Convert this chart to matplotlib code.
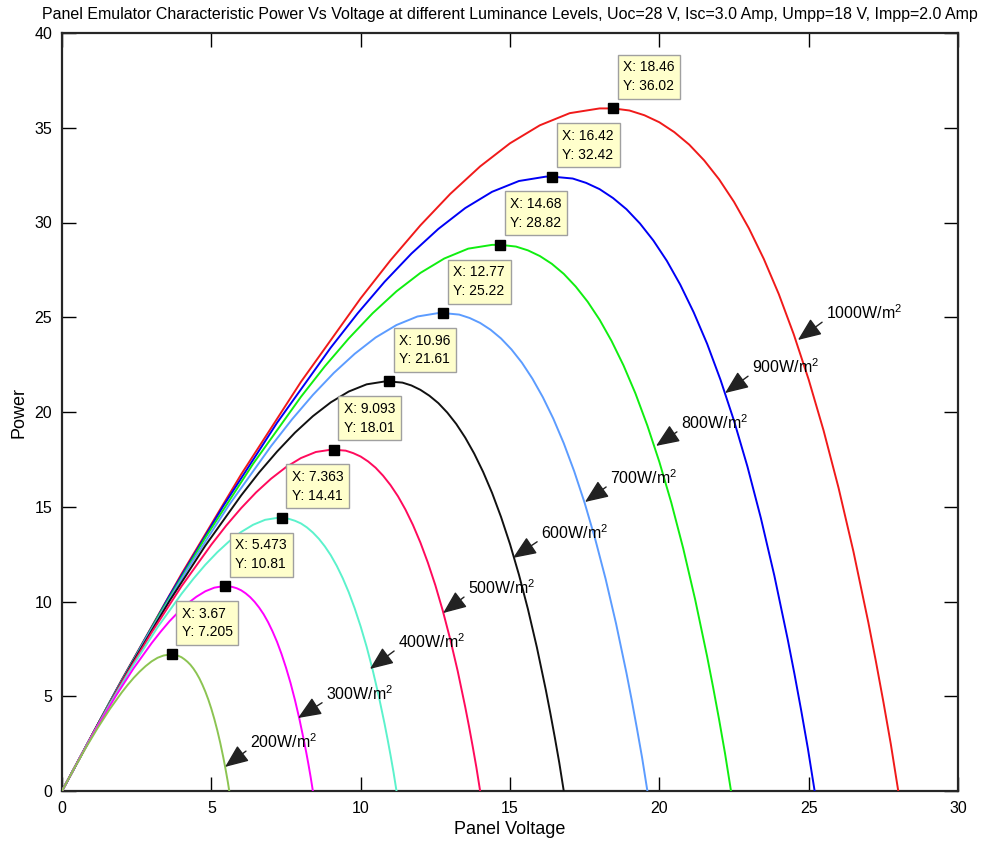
import matplotlib
matplotlib.use("Agg")
import matplotlib.pyplot as plt
import matplotlib.font_manager as fm

names = {f.name for f in fm.fontManager.ttflist}
BASE = "Liberation Sans" if "Liberation Sans" in names else "DejaVu Sans"
plt.rcParams["font.family"] = [BASE, "DejaVu Sans"]
plt.rcParams["mathtext.fontset"] = "custom"
plt.rcParams["mathtext.rm"] = BASE
plt.rcParams["mathtext.it"] = BASE
plt.rcParams["mathtext.bf"] = BASE

# ---------------- data ----------------
levels = ["1000", "900", "800", "700", "600", "500", "400", "300", "200"]

v_1000 = [0, 2, 4, 6, 8, 10, 11, 12, 13, 14, 15, 16, 17, 18, 18.46, 19, 19.5, 20, 20.5, 21, 21.5, 22, 22.5, 23, 23.5, 24, 24.5, 25, 25.5, 26, 26.5, 27, 27.25, 27.5, 27.75, 28]
p_1000 = [0, 5.87, 11.45, 16.71, 21.59, 26.0, 28.01, 29.85, 31.51, 32.96, 34.18, 35.13, 35.77, 36.02, 36.02, 35.91, 35.66, 35.29, 34.77, 34.11, 33.28, 32.28, 31.09, 29.69, 28.07, 26.22, 24.10, 21.71, 19.02, 16.0, 12.63, 8.88, 6.85, 4.72, 2.48, 0]

v_900 = [0, 1.8, 3.6, 5.4, 7.2, 9.0, 9.9, 10.8, 11.7, 12.6, 13.5, 14.4, 15.3, 16.2, 16.42, 17.1, 17.55, 18.0, 18.45, 18.9, 19.35, 19.8, 20.25, 20.7, 21.15, 21.6, 22.05, 22.5, 22.95, 23.4, 23.85, 24.3, 24.525, 24.75, 24.975, 25.2]
p_900 = [0, 5.28, 10.31, 15.04, 19.43, 23.4, 25.21, 26.87, 28.36, 29.66, 30.76, 31.62, 32.19, 32.42, 32.42, 32.32, 32.09, 31.76, 31.29, 30.70, 29.95, 29.05, 27.98, 26.72, 25.26, 23.6, 21.69, 19.54, 17.12, 14.4, 11.37, 7.99, 6.17, 4.25, 2.23, 0]

v_800 = [0, 1.6, 3.2, 4.8, 6.4, 8.0, 8.8, 9.6, 10.4, 11.2, 12.0, 12.8, 13.6, 14.4, 14.68, 15.2, 15.6, 16.0, 16.4, 16.8, 17.2, 17.6, 18.0, 18.4, 18.8, 19.2, 19.6, 20.0, 20.4, 20.8, 21.2, 21.6, 21.8, 22.0, 22.2, 22.4]
p_800 = [0, 4.70, 9.16, 13.37, 17.27, 20.8, 22.41, 23.88, 25.21, 26.37, 27.34, 28.10, 28.62, 28.82, 28.82, 28.73, 28.53, 28.23, 27.82, 27.29, 26.62, 25.82, 24.87, 23.75, 22.46, 20.98, 19.28, 17.37, 15.22, 12.8, 10.10, 7.10, 5.48, 3.78, 1.98, 0]

v_700 = [0, 1.4, 2.8, 4.2, 5.6, 7.0, 7.7, 8.4, 9.1, 9.8, 10.5, 11.2, 11.9, 12.6, 12.77, 13.3, 13.65, 14.0, 14.35, 14.7, 15.05, 15.4, 15.75, 16.1, 16.45, 16.8, 17.15, 17.5, 17.85, 18.2, 18.55, 18.9, 19.075, 19.25, 19.425, 19.6]
p_700 = [0, 4.11, 8.02, 11.70, 15.11, 18.2, 19.61, 20.90, 22.06, 23.07, 23.93, 24.59, 25.04, 25.22, 25.22, 25.14, 24.96, 24.70, 24.34, 23.88, 23.30, 22.60, 21.76, 20.78, 19.65, 18.35, 16.87, 15.20, 13.31, 11.2, 8.84, 6.22, 4.80, 3.30, 1.74, 0]

v_600 = [0, 1.2, 2.4, 3.6, 4.8, 6.0, 6.6, 7.2, 7.8, 8.4, 9.0, 9.6, 10.2, 10.8, 10.96, 11.4, 11.7, 12.0, 12.3, 12.6, 12.9, 13.2, 13.5, 13.8, 14.1, 14.4, 14.7, 15.0, 15.3, 15.6, 15.9, 16.2, 16.35, 16.5, 16.65, 16.8]
p_600 = [0, 3.52, 6.87, 10.03, 12.95, 15.6, 16.81, 17.91, 18.91, 19.78, 20.51, 21.08, 21.46, 21.61, 21.61, 21.55, 21.40, 21.17, 20.86, 20.47, 19.97, 19.37, 18.65, 17.81, 16.84, 15.73, 14.46, 13.03, 11.41, 9.6, 7.58, 5.33, 4.11, 2.83, 1.49, 0]

v_500 = [0, 1, 2, 3, 4, 5, 5.5, 6, 6.5, 7, 7.5, 8, 8.5, 9, 9.093, 9.5, 9.75, 10, 10.25, 10.5, 10.75, 11, 11.25, 11.5, 11.75, 12, 12.25, 12.5, 12.75, 13, 13.25, 13.5, 13.625, 13.75, 13.875, 14]
p_500 = [0, 2.94, 5.73, 8.36, 10.80, 13.0, 14.01, 14.93, 15.76, 16.48, 17.09, 17.57, 17.89, 18.01, 18.01, 17.96, 17.83, 17.65, 17.39, 17.06, 16.64, 16.14, 15.55, 14.85, 14.04, 13.11, 12.05, 10.86, 9.51, 8.0, 6.32, 4.44, 3.43, 2.36, 1.24, 0]

v_400 = [0, 0.8, 1.6, 2.4, 3.2, 4.0, 4.4, 4.8, 5.2, 5.6, 6.0, 6.4, 6.8, 7.2, 7.363, 7.6, 7.8, 8.0, 8.2, 8.4, 8.6, 8.8, 9.0, 9.2, 9.4, 9.6, 9.8, 10.0, 10.2, 10.4, 10.6, 10.8, 10.9, 11.0, 11.1, 11.2]
p_400 = [0, 2.35, 4.58, 6.68, 8.64, 10.4, 11.2, 11.94, 12.6, 13.18, 13.67, 14.05, 14.31, 14.41, 14.41, 14.36, 14.26, 14.12, 13.91, 13.64, 13.31, 12.91, 12.44, 11.88, 11.23, 10.49, 9.64, 8.68, 7.61, 6.4, 5.05, 3.55, 2.74, 1.89, 0.99, 0]

v_300 = [0, 0.6, 1.2, 1.8, 2.4, 3.0, 3.3, 3.6, 3.9, 4.2, 4.5, 4.8, 5.1, 5.4, 5.473, 5.7, 5.85, 6.0, 6.15, 6.3, 6.45, 6.6, 6.75, 6.9, 7.05, 7.2, 7.35, 7.5, 7.65, 7.8, 7.95, 8.1, 8.175, 8.25, 8.325, 8.4]
p_300 = [0, 1.76, 3.44, 5.01, 6.48, 7.8, 8.40, 8.96, 9.45, 9.89, 10.25, 10.54, 10.73, 10.81, 10.81, 10.77, 10.70, 10.59, 10.43, 10.23, 9.98, 9.68, 9.33, 8.91, 8.42, 7.87, 7.23, 6.51, 5.71, 4.8, 3.79, 2.66, 2.06, 1.42, 0.74, 0]

v_200 = [0, 0.4, 0.8, 1.2, 1.6, 2.0, 2.2, 2.4, 2.6, 2.8, 3.0, 3.2, 3.4, 3.6, 3.67, 3.8, 3.9, 4.0, 4.1, 4.2, 4.3, 4.4, 4.5, 4.6, 4.7, 4.8, 4.9, 5.0, 5.1, 5.2, 5.3, 5.4, 5.45, 5.5, 5.55, 5.6]
p_200 = [0, 1.17, 2.29, 3.34, 4.32, 5.2, 5.6, 5.97, 6.3, 6.59, 6.84, 7.03, 7.15, 7.2, 7.205, 7.18, 7.13, 7.06, 6.95, 6.82, 6.66, 6.46, 6.22, 5.94, 5.61, 5.24, 4.82, 4.34, 3.80, 3.2, 2.53, 1.78, 1.37, 0.94, 0.50, 0]

# data tips (maximum power points)
tip_x = [18.46, 16.42, 14.68, 12.77, 10.96, 9.093, 7.363, 5.473, 3.67]
tip_y = [36.02, 32.42, 28.82, 25.22, 21.61, 18.01, 14.41, 10.81, 7.205]
tip_xtxt = ["18.46", "16.42", "14.68", "12.77", "10.96", "9.093", "7.363", "5.473", "3.67"]
tip_ytxt = ["36.02", "32.42", "28.82", "25.22", "21.61", "18.01", "14.41", "10.81", "7.205"]

# irradiance labels: arrow head on curve, text anchor (left, baseline)
arrow_head_x = [24.64, 22.20, 19.89, 17.51, 15.10, 12.76, 10.31, 7.90, 5.46]
arrow_head_y = [23.80, 21.00, 18.21, 15.25, 12.30, 9.39, 6.44, 3.85, 1.27]
label_x = [25.58, 23.10, 20.72, 18.35, 16.04, 13.59, 11.25, 8.84, 6.29]
label_y = [24.90, 22.05, 19.10, 16.20, 13.30, 10.40, 7.55, 4.80, 2.27]

xticks = [0, 5, 10, 15, 20, 25, 30]
yticks = [0, 5, 10, 15, 20, 25, 30, 35, 40]

# ---------------- styling ----------------
colors = ["#f01a1a", "#0000f5", "#10ee10", "#5c9cff", "#111111",
          "#ff0a5c", "#5cf2cc", "#ff00ff", "#8cc452"]

series_v = [v_1000, v_900, v_800, v_700, v_600, v_500, v_400, v_300, v_200]
series_p = [p_1000, p_900, p_800, p_700, p_600, p_500, p_400, p_300, p_200]

W, H = 981, 842
fig = plt.figure(figsize=(W / 100, H / 100), dpi=100)
fig.patch.set_facecolor("white")
ax = fig.add_axes([62 / W, (H - 791) / H, (958 - 62) / W, (791 - 33) / H])

for v, p, c in zip(series_v, series_p, colors):
    ax.plot(v, p, color=c, lw=1.4, solid_joinstyle="round", zorder=3)

ax.plot(tip_x, tip_y, "s", color="black", ms=6.5, zorder=5)

for x, y, tx, ty in zip(tip_x, tip_y, tip_xtxt, tip_ytxt):
    ax.annotate(f"X: {tx}\nY: {ty}", xy=(x, y), xytext=(10, 15),
                textcoords="offset pixels", ha="left", va="bottom",
                fontsize=10, linespacing=1.45, zorder=6,
                bbox=dict(boxstyle="square,pad=0.4", fc="#ffffcc",
                          ec="#a0a0a0", lw=1.0))

for lev, hx, hy, lx, ly in zip(levels, arrow_head_x, arrow_head_y, label_x, label_y):
    ax.annotate(lev + r"W/m$^{2}$", xy=(hx, hy), xytext=(lx, ly),
                ha="left", va="baseline", fontsize=11.5, zorder=6,
                arrowprops=dict(arrowstyle="-|>,head_length=1.2,head_width=0.5",
                                mutation_scale=12, fc="#222222", ec="#222222",
                                lw=1.0, shrinkA=1, shrinkB=0, relpos=(0.0, 0.15)))

ax.set_xlim(0, 30)
ax.set_ylim(0, 40)
ax.set_xticks(xticks)
ax.set_yticks(yticks)
ax.tick_params(direction="in", length=10, width=1, top=True, right=True,
               labelsize=11.5, colors="black", pad=7)
for s in ax.spines.values():
    s.set_linewidth(1.6)
    s.set_color("#262626")

ax.set_xlabel("Panel Voltage", fontsize=13, labelpad=4)
ax.set_ylabel("Power", fontsize=13, labelpad=5)

title = fig.text(0.5 * (62 + 958) / W, 1 - 15 / H,
                 "Panel Emulator Characteristic Power Vs Voltage at different Luminance Levels, "
                 "Uoc=28 V, Isc=3.0 Amp, Umpp=18 V, Impp=2.0 Amp",
                 ha="center", va="center", fontsize=11)
fig.canvas.draw()
w = title.get_window_extent().width
title.set_fontsize(11 * 937 / w)

fig.savefig("out.png", dpi=100, facecolor="white")
